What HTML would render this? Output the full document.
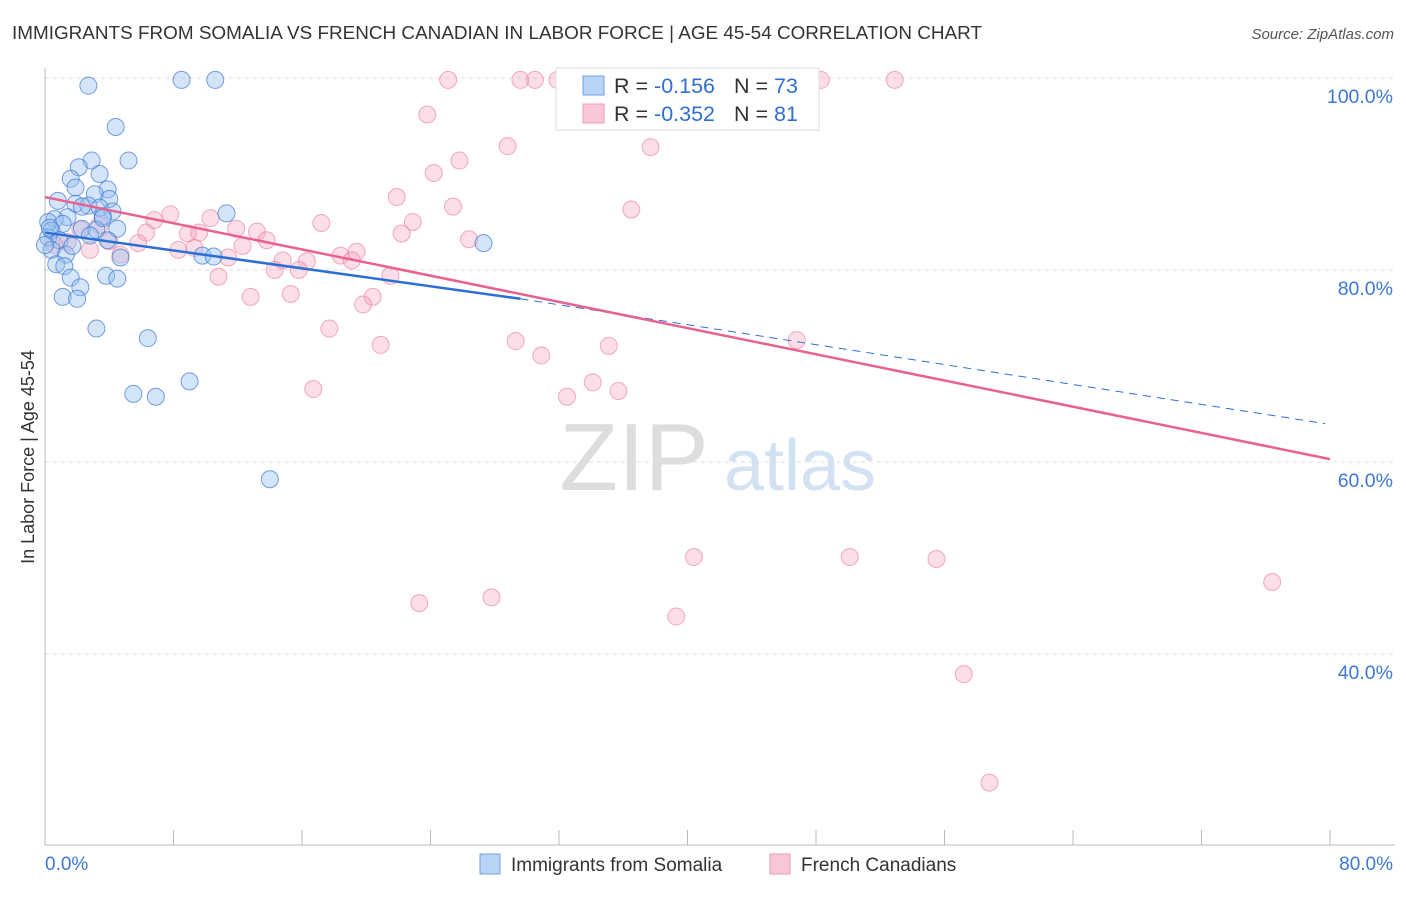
<!DOCTYPE html>
<html><head><meta charset="utf-8"><style>
body{margin:0;background:#fff;font-family:"Liberation Sans",sans-serif}
svg text{font-family:"Liberation Sans",sans-serif}
</style></head><body>
<svg id="c" width="1406" height="892" xmlns="http://www.w3.org/2000/svg">
<text x="12" y="39" font-size="18.5" fill="#333" textLength="970" lengthAdjust="spacingAndGlyphs">IMMIGRANTS FROM SOMALIA VS FRENCH CANADIAN IN LABOR FORCE | AGE 45-54 CORRELATION CHART</text>
<text x="1394" y="39" font-size="15" fill="#555" text-anchor="end" font-style="italic">Source: ZipAtlas.com</text>
<text x="634" y="490" font-size="96" fill="#ddd" text-anchor="middle" font-family="Liberation Serif">ZIP</text>
<text x="800" y="490" font-size="72" fill="#d3e2f3" text-anchor="middle">atlas</text>
<g id="grid"></g><g id="axes"></g><g id="pts"></g><g id="trend"></g>
<text transform="translate(34,457) rotate(-90)" font-size="18" fill="#333" text-anchor="middle">In Labor Force | Age 45-54</text>
<g>
<rect x="556" y="68" width="263" height="62" fill="#fff" stroke="#ddd"/>
<rect x="583" y="76" width="21" height="19" fill="#b8d3f5" stroke="#6fa0e0"/>
<rect x="583" y="104" width="21" height="19" fill="#f8c6d4" stroke="#ef9ab5"/>
<text x="614" y="93" font-size="21.5" fill="#333">R = <tspan fill="#2f6fd0">-0.156</tspan><tspan x="734">N = </tspan><tspan fill="#2f6fd0">73</tspan></text>
<text x="614" y="121" font-size="21.5" fill="#333">R = <tspan fill="#2f6fd0">-0.352</tspan><tspan x="734">N = </tspan><tspan fill="#2f6fd0"> 81</tspan></text>
</g>
<g>
<rect x="480" y="854" width="20" height="20" fill="#b8d3f5" stroke="#6fa0e0"/>
<text x="511" y="871" font-size="19" fill="#333">Immigrants from Somalia</text>
<rect x="770" y="854" width="20" height="20" fill="#f8c6d4" stroke="#ef9ab5"/>
<text x="801" y="871" font-size="19" fill="#333">French Canadians</text>
</g>
</svg>
<script>
const xTicks=[0,8,16,24,32,40,48,56,64,72,80];
const yTicks=[40,60,80,100];
const yTickLabels=["40.0%","60.0%","80.0%","100.0%"];
const xEndLabels=["0.0%","80.0%"];
const somaliaX=[2.7,8.5,10.6,4.4,5.2,2.9,2.1,1.6,3.4,1.9,3.9,3.1,0.8,4.0,1.9,2.7,2.3,3.4,4.2,11.3,3.6,1.4,0.6,0.2,1.1,2.3,3.2,4.5,0.4,0.2,0.9,3.9,27.3,0.4,1.3,9.8,10.5,4.7,0.7,1.2,3.8,4.5,1.6,2.2,1.1,2.0,3.2,6.4,9.0,5.5,6.9,14.0,0,0.3,2.8,3.6,1.7];
const somaliaY=[99.2,99.8,99.8,94.9,91.4,91.4,90.7,89.5,90.0,88.6,88.4,87.9,87.2,87.4,86.9,86.7,86.6,86.5,86.1,85.9,85.6,85.5,85.3,85.0,84.8,84.3,84.2,84.3,84.1,83.4,83.1,83.1,82.8,82.1,81.6,81.5,81.4,81.3,80.6,80.4,79.4,79.1,79.2,78.2,77.2,77.0,73.9,72.9,68.4,67.1,66.8,58.2,82.6,84.4,83.6,85.4,82.5];
const frenchX=[25.1,29.6,30.5,31.9,32.8,37.0,44.5,48.3,52.9,23.8,28.8,37.7,25.8,24.2,21.9,25.4,36.5,7.8,10.3,17.2,22.9,6.8,22.2,26.4,6.3,8.9,11.9,13.2,13.8,9.6,5.8,4.0,1.4,0.6,2.8,8.3,12.3,19.4,18.4,19.1,16.3,14.8,11.4,9.3,14.3,15.8,10.8,21.5,4.7,12.8,15.3,20.4,19.8,17.7,29.3,20.9,35.1,46.8,30.9,34.1,35.7,32.5,16.7,40.4,50.1,55.5,27.8,23.3,39.3,76.4,57.2,58.8,2.2,3.4];
const frenchY=[99.8,99.8,99.8,99.8,99.8,99.8,99.8,99.8,99.8,96.2,92.9,92.8,91.4,90.1,87.6,86.6,86.3,85.8,85.4,84.9,85.0,85.2,83.8,83.2,83.9,83.8,84.3,84.0,83.1,83.9,82.8,83.0,82.9,82.6,82.1,82.1,82.5,81.9,81.5,81.0,80.9,81.0,81.3,82.3,80.0,80.0,79.3,79.4,81.6,77.2,77.5,77.2,76.4,73.9,72.6,72.2,72.1,72.7,71.1,68.3,67.4,66.8,67.6,50.1,50.1,49.9,45.9,45.3,43.9,47.5,37.9,26.6,84.2,84.7];
const somaliaTrend=[83.9,77.0,64.0]; // at x=0, 29.6, 80
const frenchTrend=[87.6,60.3]; // at x=0, 80
const NS="http://www.w3.org/2000/svg";
const X=v=>45+v*(1285/80);
const Y=v=>78+(100-v)*9.6;
function mk(t,a,p){const e=document.createElementNS(NS,t);for(const k in a)e.setAttribute(k,a[k]);p.appendChild(e);return e;}
const grid=document.getElementById('grid'),axes=document.getElementById('axes'),pts=document.getElementById('pts'),tr=document.getElementById('trend');
yTicks.forEach((t,i)=>{
 const l=mk('line',{x1:45,x2:1395,y1:Y(t),y2:Y(t),stroke:'#ddd','stroke-dasharray':'4,4'},grid);
 
 
 const tx=mk('text',{x:1393,y:Y(t)+25,'font-size':19.5,fill:'#3d78d8','text-anchor':'end'},grid);
 tx.textContent=yTickLabels[i];
 
 
});
const ax=mk('line',{x1:45,x2:1395,y1:845,y2:845,stroke:'#bbb'},axes);


const ay=mk('line',{x1:45,x2:45,y1:68,y2:845,stroke:'#bbb'},axes);


xTicks.forEach(t=>{
 const l=mk('line',{x1:X(t),x2:X(t),y1:830,y2:845,stroke:'#bbb'},axes);
 
 
});
const xl0=mk('text',{x:45,y:870,'font-size':19,fill:'#3d78d8'},axes);xl0.textContent=xEndLabels[0];


const xl1=mk('text',{x:1393,y:870,'font-size':19,fill:'#3d78d8','text-anchor':'end'},axes);xl1.textContent=xEndLabels[1];


frenchX.forEach((v,i)=>{
 const c=mk('circle',{cx:X(v),cy:Y(frenchY[i]),r:8.5,fill:'rgba(244,160,186,0.35)',stroke:'rgba(232,120,155,0.6)','stroke-width':1},pts);
 
 
});
somaliaX.forEach((v,i)=>{
 const c=mk('circle',{cx:X(v),cy:Y(somaliaY[i]),r:8.5,fill:'rgba(150,190,240,0.4)',stroke:'rgba(60,120,210,0.7)','stroke-width':1},pts);
 
 
});
const b1=mk('line',{x1:X(0),y1:Y(somaliaTrend[0]),x2:X(29.6),y2:Y(somaliaTrend[1]),stroke:'#2b6fd6','stroke-width':2.5},tr);


const b2=mk('line',{x1:X(29.6),y1:Y(somaliaTrend[1]),x2:X(79.7),y2:Y(somaliaTrend[2]),stroke:'#2b6fd6','stroke-width':1,'stroke-dasharray':'8,6'},tr);


const p1=mk('line',{x1:X(0),y1:Y(frenchTrend[0]),x2:X(80),y2:Y(frenchTrend[1]),stroke:'#e8618f','stroke-width':2.5},tr);


</script>
</body></html>
